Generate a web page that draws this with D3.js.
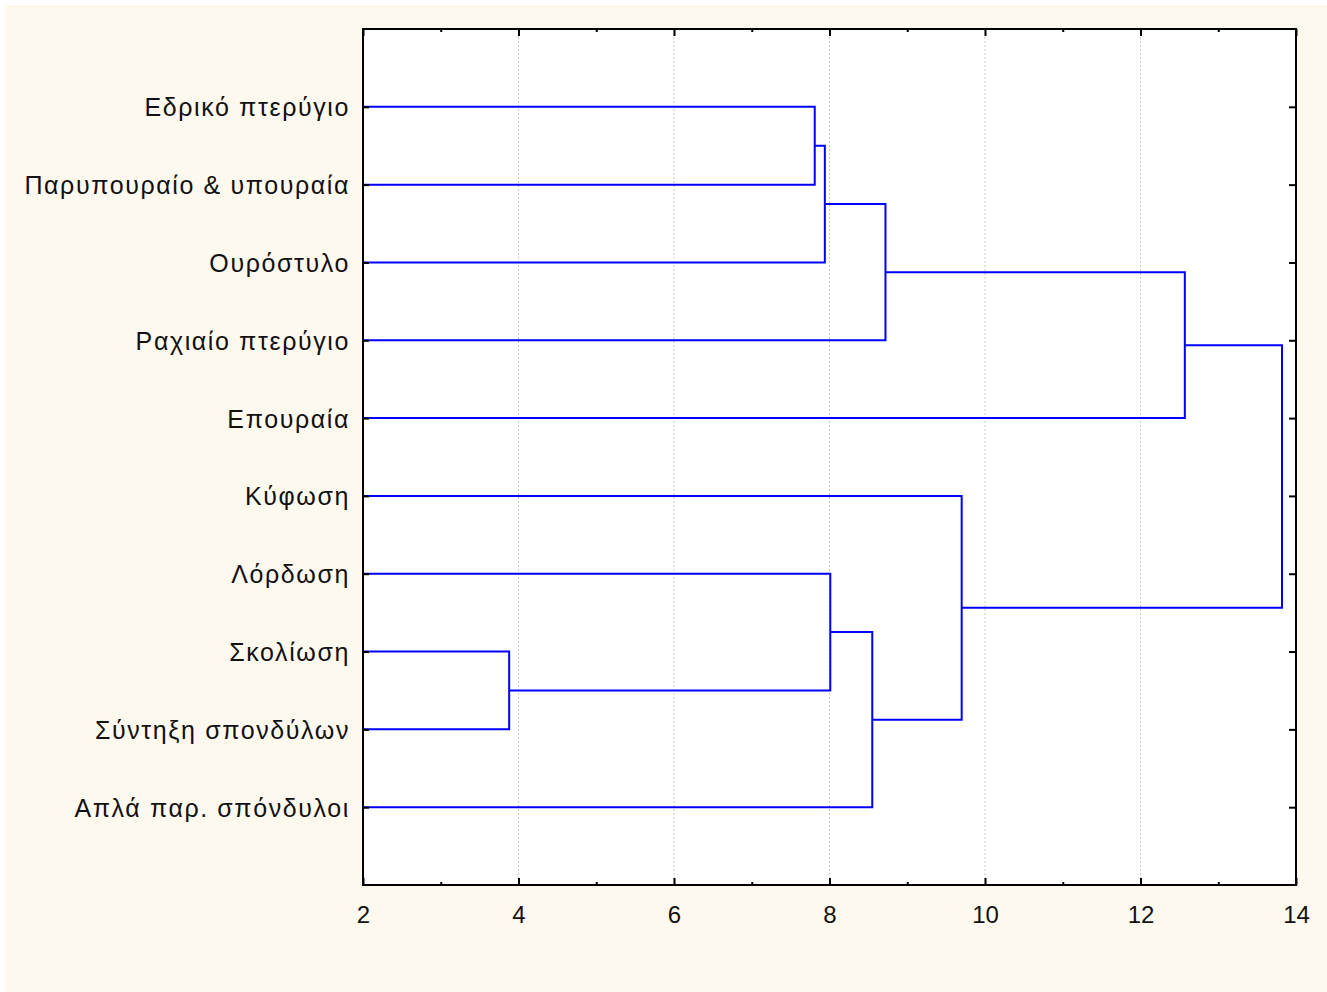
<!DOCTYPE html>
<html>
<head>
<meta charset="utf-8">
<script src="https://cdn.jsdelivr.net/npm/d3@7"></script>
<style>
html,body{margin:0;padding:0;background:#fff;}
svg{display:block;}
text{font-family:"Liberation Sans",Arial,sans-serif;fill:#111;}
</style>
</head>
<body>
<svg id="chart" width="1327" height="992"></svg>
<script>
// Leaf labels, top to bottom
const leaves = ["Εδρικό πτερύγιο","Παρυπουραίο & υπουραία","Ουρόστυλο","Ραχιαίο πτερύγιο","Επουραία","Κύφωση","Λόρδωση","Σκολίωση","Σύντηξη σπονδύλων","Απλά παρ. σπόνδυλοι"];
// Merge order: children ("L"+leaf index or "c"+earlier merge index) and linkage distance
const mergeA = ["L0","L7","c0","L6","c2","c3","L5","c4","c7"];
const mergeB = ["L1","L8","L2","c1","L3","L9","c5","L4","c6"];
const mergeDist = [7.81, 3.88, 7.94, 8.01, 8.72, 8.55, 9.70, 12.57, 13.82];
const xTicks = [2,4,6,8,10,12,14];
const xMinorTicks = [3,5,7,9,11,13];
const xDomain = [2,14];

const W = 1327, H = 992;
const m = {left:363, top:29, right:1296, bottom:885};
const svg = d3.select("#chart");
svg.append("rect").attr("x",0).attr("y",0).attr("width",W).attr("height",H).attr("fill","#ffffff");
svg.append("rect").attr("x",5).attr("y",5).attr("width",W-5).attr("height",H-5).attr("fill","#fef9ef");
svg.append("rect").attr("x",m.left).attr("y",m.top).attr("width",m.right-m.left).attr("height",m.bottom-m.top).attr("fill","#ffffff");

const x = d3.scaleLinear().domain(xDomain).range([m.left, m.right]);
const y = d3.scaleLinear().domain([0, leaves.length+1]).range([m.top, m.bottom]);

// grid
svg.append("g").selectAll("line").data(xTicks.filter(t=>t>xDomain[0]&&t<xDomain[1])).join("line")
  .attr("x1",d=>x(d)).attr("x2",d=>x(d)).attr("y1",m.top).attr("y2",m.bottom)
  .attr("stroke","#c8c8c8").attr("stroke-width",1).attr("stroke-dasharray","2,2");

// dendrogram
const pos = {};
leaves.forEach((l,i)=>{ pos["L"+i] = {x:x(xDomain[0]), y:y(i+1)}; });
const g = svg.append("g").attr("fill","none").attr("stroke","#0000ff").attr("stroke-width",2);
mergeDist.forEach((d,i)=>{
  const A = pos[mergeA[i]], B = pos[mergeB[i]];
  const xm = x(d);
  g.append("path").attr("d", `M${A.x},${A.y}H${xm}V${B.y}H${B.x}`);
  pos["c"+i] = {x:xm, y:(A.y+B.y)/2};
});

// axes frame
svg.append("rect").attr("x",m.left).attr("y",m.top).attr("width",m.right-m.left).attr("height",m.bottom-m.top)
  .attr("fill","none").attr("stroke","#000").attr("stroke-width",2);

function styleTicks(sel){
  sel.select(".domain").remove();
  sel.selectAll(".tick line").attr("stroke","#000").attr("stroke-width",2);
}

// bottom axis
const bAx = svg.append("g").attr("transform",`translate(0,${m.bottom})`)
  .call(d3.axisBottom(x).tickValues(xTicks).tickSize(-7).tickPadding(21).tickFormat(d3.format("d")));
styleTicks(bAx);
bAx.selectAll(".tick text").style("font-size","24px").attr("font-family","Liberation Sans, Arial, sans-serif").attr("fill","#111");
const bAm = svg.append("g").attr("transform",`translate(0,${m.bottom})`)
  .call(d3.axisBottom(x).tickValues(xMinorTicks).tickSize(-3).tickFormat(""));
styleTicks(bAm);

// top axis ticks
const tAx = svg.append("g").attr("transform",`translate(0,${m.top})`)
  .call(d3.axisTop(x).tickValues(xTicks).tickSize(-7).tickFormat(""));
styleTicks(tAx);
const tAm = svg.append("g").attr("transform",`translate(0,${m.top})`)
  .call(d3.axisTop(x).tickValues(xMinorTicks).tickSize(-3).tickFormat(""));
styleTicks(tAm);

// left axis with labels
const yIdx = leaves.map((l,i)=>i+1);
const lAx = svg.append("g").attr("transform",`translate(${m.left},0)`)
  .call(d3.axisLeft(y).tickValues(yIdx).tickSize(-6).tickPadding(13).tickFormat(d=>leaves[d-1]));
styleTicks(lAx);
lAx.selectAll(".tick text").style("font-size","25px").style("letter-spacing","1.6px")
  .attr("font-family","Liberation Sans, Arial, sans-serif").attr("fill","#111").attr("dy","0.36em");

// right axis ticks
const rAx = svg.append("g").attr("transform",`translate(${m.right},0)`)
  .call(d3.axisRight(y).tickValues(yIdx).tickSize(-7).tickFormat(""));
styleTicks(rAx);
</script>
</body>
</html>
